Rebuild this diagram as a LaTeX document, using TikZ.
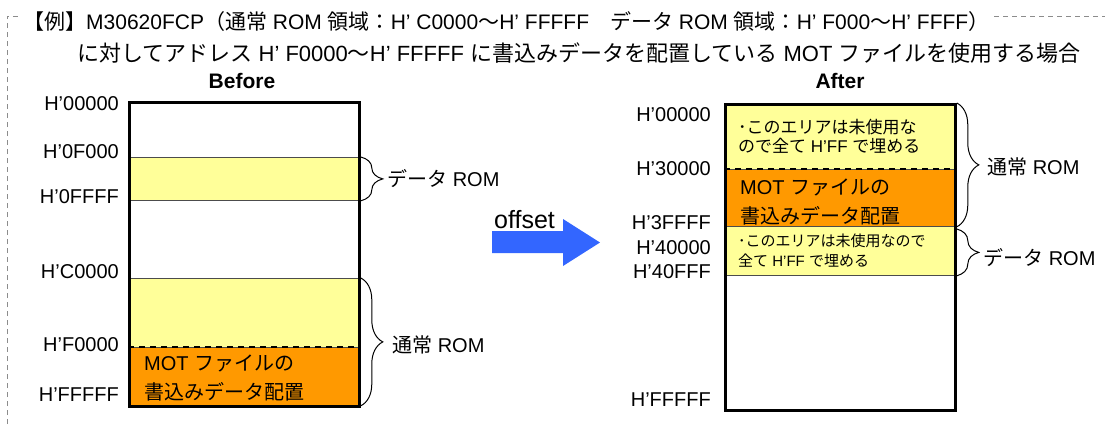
\documentclass[tikz,border=0pt]{standalone}
\usepackage{fontspec}
\setmainfont{Liberation Sans}
\newfontfamily\jpfont{Noto Sans CJK JP}
\newcommand{\jtext}[1]{{\jpfont #1}}
\usepackage{xcolor}
\usetikzlibrary{positioning,decorations.pathreplacing}
\definecolor{romyellow}{HTML}{FFFF99}
\definecolor{romorange}{HTML}{FF9900}
\definecolor{offsetblue}{HTML}{3366FF}

\begin{document}
\begin{tikzpicture}[x=1pt,y=1pt,
  every node/.style={inner sep=0pt},
  titletext/.style={anchor=west,font=\fontsize{21}{25}\selectfont},
  headtext/.style={font=\fontsize{21}{25}\selectfont\bfseries},
  addr/.style={anchor=east,font=\fontsize{20}{24}\selectfont},
  sidelabel/.style={anchor=west,font=\fontsize{20}{24}\selectfont},
  region/.style={draw=black!70,line width=0.8pt,anchor=north west,minimum width=230pt},
  memframe/.style={draw,line width=3pt,anchor=north west,minimum width=230pt},
  splitline/.style={line width=1.5pt,dash pattern=on 6pt off 5pt},
  rombrace/.style={decorate,decoration={brace,amplitude=22pt},line width=1pt},
  motnote/.style={anchor=west,align=left,font=\fontsize{20}{29}\selectfont},
  fillnote/.style={anchor=west,align=left,font=\fontsize{17}{19}\selectfont},
  smallnote/.style={anchor=west,align=left,font=\fontsize{15}{20}\selectfont},
  outline/.style={draw=black!45,line width=1pt,dash pattern=on 5pt off 4pt}]
  \useasboundingbox (0,0) rectangle (1105,-424);
  \draw[outline] (7,-424) -- (7,-16) -- (1105,-16);
  \node[titletext,fill=white,inner xsep=3pt] (title1) at (20,-22)
    {\jtext{【例】}M30620FCP\jtext{（通常} ROM \jtext{領域：}H’ C0000\jtext{～}H’ FFFFF\jtext{　データ} ROM \jtext{領域：}H’ F000\jtext{～}H’ FFFF\jtext{）}};
  \node[titletext,font=\fontsize{22}{26}\selectfont] (title2) at (77,-53)
    {\jtext{に対してアドレス} H’ F0000\jtext{～}H’ FFFFF \jtext{に書込みデータを配置している} MOT \jtext{ファイルを使用する場合}};

  \node[headtext] (before) at (242,-81) {Before};
  \node[region,fill=white,minimum height=304pt] (bspace) at (128,-101) {};
  \node[region,fill=romyellow,minimum height=43pt] (bdata) at (128,-157) {};
  \node[region,fill=romyellow,minimum height=69pt] (bfree) at (128,-278) {};
  \node[region,fill=romorange,minimum height=58pt] (bmot) at (128,-347) {};
  \draw[splitline] (bmot.north west) -- (bmot.north east);
  \node[memframe,minimum height=304pt] (bmap) at (128,-101) {};
  \node[motnote] (bmottext) at ([xshift=16pt,yshift=-2pt]bmot.west)
    {MOT \jtext{ファイルの}\\\jtext{書込みデータ配置}};
  \node[addr] (b00000) at (119,-104) {H’00000};
  \node[addr] (b0F000) at (119,-152) {H’0F000};
  \node[addr] (b0FFFF) at (119,-197) {H’0FFFF};
  \node[addr] (bC0000) at (119,-272) {H’C0000};
  \node[addr] (bF0000) at (119,-345) {H’F0000};
  \node[addr] (bFFFFF) at (119,-395) {H’FFFFF};
  \draw[rombrace] ([xshift=2pt]bdata.north east) -- ([xshift=2pt]bdata.south east);
  \draw[rombrace] ([xshift=2pt]bfree.north east) -- ([xshift=2pt]bmot.south east);
  \node[sidelabel] (bdatalabel) at (387,-179) {\jtext{データ} ROM};
  \node[sidelabel] (bromlabel) at (392,-345) {\jtext{通常} ROM};

  \fill[offsetblue] (492,-231) -- (563,-231) -- (563,-219) -- (600,-242.5)
    -- (563,-266) -- (563,-253) -- (492,-253) -- cycle;
  \node[anchor=base west,font=\fontsize{25}{30}\selectfont] (offset) at (494,-228) {offset};

  \node[headtext] (after) at (840,-81) {After};
  \node[region,fill=white,minimum height=306pt] (aspace) at (724,-103) {};
  \node[region,fill=romyellow,minimum height=66pt] (afree) at (724,-103) {};
  \node[region,fill=romorange,minimum height=57pt] (amot) at (724,-169) {};
  \node[region,fill=romyellow,minimum height=49pt] (adata) at (724,-226) {};
  \draw[splitline] (amot.north west) -- (amot.north east);
  \node[memframe,minimum height=306pt] (amap) at (724,-103) {};
  \node[fillnote] (afreetext) at ([xshift=14pt]afree.west)
    {\jtext{･このエリアは未使用な}\\\jtext{ので全て} H’FF \jtext{で埋める}};
  \node[motnote] (amottext) at ([xshift=16pt,yshift=-4pt]amot.west)
    {MOT \jtext{ファイルの}\\\jtext{書込みデータ配置}};
  \node[smallnote] (adatatext) at ([xshift=14pt]adata.west)
    {\jtext{･このエリアは未使用なので}\\\jtext{全て} H’FF \jtext{で埋める}};
  \node[addr] (a00000) at (711,-115) {H’00000};
  \node[addr] (a30000) at (711,-169) {H’30000};
  \node[addr] (a3FFFF) at (711,-223) {H’3FFFF};
  \node[addr] (a40000) at (711,-248) {H’40000};
  \node[addr] (a40FFF) at (711,-272) {H’40FFF};
  \node[addr] (aFFFFF) at (711,-400) {H’FFFFF};
  \draw[rombrace] ([xshift=2pt]afree.north east) -- ([xshift=2pt]amot.south east);
  \draw[rombrace] ([xshift=2pt,yshift=-3pt]adata.north east) -- ([xshift=2pt]adata.south east);
  \node[sidelabel] (aromlabel) at (987,-167) {\jtext{通常} ROM};
  \node[sidelabel] (adatalabel) at (983,-258) {\jtext{データ} ROM};
\end{tikzpicture}
\end{document}
